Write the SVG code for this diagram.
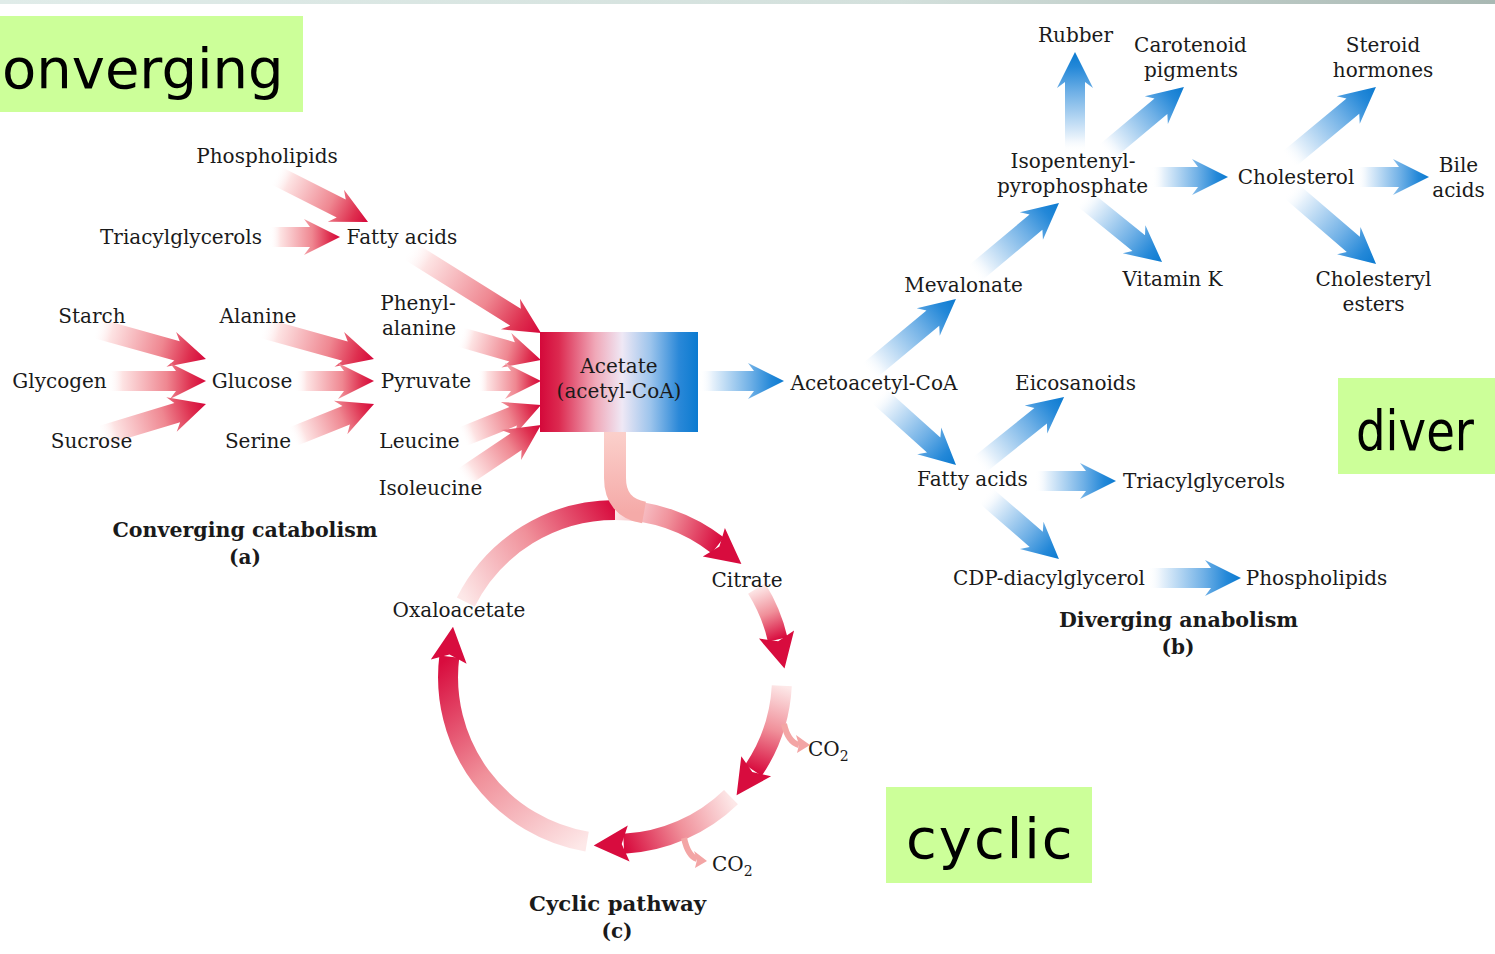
<svg xmlns="http://www.w3.org/2000/svg" width="1495" height="954" viewBox="0 0 1495 954">
<defs>
<style>
.t{font-family:"DejaVu Serif","Liberation Serif",serif;font-size:20px;fill:#1a1a1a;text-anchor:middle}
.s{text-anchor:start}
.b{font-family:"DejaVu Serif","Liberation Serif",serif;font-size:20px;font-weight:bold;fill:#1a1a1a;text-anchor:middle}
.g{font-family:"DejaVu Sans","Noto Sans",sans-serif;font-size:56px;fill:#000}
.gb{fill:#ccff99}
.ra{fill:url(#gr)}
.ba{fill:url(#gbl)}
.arc{fill:none;stroke-width:20}
.hd{fill:#d80c3e}
.co{fill:none;stroke:#f3a5a5;stroke-width:6}
.coh{fill:#f3a5a5}
</style>
<linearGradient id="top" x1="0" x2="1"><stop offset="0" stop-color="#e0ece9"/><stop offset="0.6" stop-color="#d3e0dc"/><stop offset="1" stop-color="#a9b8b3"/></linearGradient>
<linearGradient id="gr"><stop offset="0" stop-color="#fff" stop-opacity="0"/><stop offset=".15" stop-color="#fde3e3"/><stop offset=".6" stop-color="#ef8791"/><stop offset=".85" stop-color="#de2f4f"/><stop offset="1" stop-color="#d6063a"/></linearGradient>
<linearGradient id="gbl"><stop offset="0" stop-color="#fff" stop-opacity="0"/><stop offset=".15" stop-color="#e6f1fb"/><stop offset=".6" stop-color="#6fb0e6"/><stop offset=".85" stop-color="#2488d8"/><stop offset="1" stop-color="#0b7ad0"/></linearGradient>
<linearGradient id="box" x1="0" x2="1"><stop offset="0" stop-color="#d4083a"/><stop offset=".12" stop-color="#dc2a50"/><stop offset=".35" stop-color="#f0a8b8"/><stop offset=".52" stop-color="#efe8f5"/><stop offset=".7" stop-color="#9cc4ec"/><stop offset=".88" stop-color="#2a88d8"/><stop offset="1" stop-color="#0a7ad0"/></linearGradient>
<linearGradient id="ra"><stop offset="0" stop-color="#fde8e8"/><stop offset=".5" stop-color="#f0909a"/><stop offset="1" stop-color="#d80c3e"/></linearGradient>
<linearGradient id="a1a" href="#ra" gradientUnits="userSpaceOnUse" x1="465.8" y1="602" x2="615" y2="510"/>
<linearGradient id="a1b" href="#ra" gradientUnits="userSpaceOnUse" x1="615" y1="510" x2="717.8" y2="545.4"/>
<linearGradient id="a2" href="#ra" gradientUnits="userSpaceOnUse" x1="756.6" y1="588.5" x2="777.7" y2="639.4"/>
<linearGradient id="a3" href="#ra" gradientUnits="userSpaceOnUse" x1="781.8" y1="685.7" x2="753.4" y2="770.4"/>
<linearGradient id="a4" href="#ra" gradientUnits="userSpaceOnUse" x1="731" y1="797.1" x2="623.7" y2="843.8"/>
<linearGradient id="a5" href="#ra" gradientUnits="userSpaceOnUse" x1="587.1" y1="841.7" x2="449.3" y2="656.6"/>
<linearGradient id="feed" x1="0" y1="0" x2="0" y2="1"><stop offset="0" stop-color="#fbd0cb"/><stop offset="1" stop-color="#f5aaa8"/></linearGradient>
</defs>
<rect x="0" y="0" width="1495" height="954" fill="#fff"/>
<rect x="0" y="0" width="1495" height="4" fill="url(#top)"/>

<g id="connectors">
<path class="ra" transform="translate(275,175) rotate(26.8)" d="M0,-10H74.2L68.2,-18L104.2,0L68.2,18L74.2,10H0Z"/>
<path class="ra" transform="translate(270,237)" d="M0,-10H40L34,-18L70,0L34,18L40,10H0Z"/>
<path class="ra" transform="translate(408,250) rotate(32)" d="M0,-10H126.8L120.8,-18L156.8,0L120.8,18L126.8,10H0Z"/>
<path class="ra" transform="translate(95,328) rotate(15.6)" d="M0,-10H85.2L79.2,-18L115.2,0L79.2,18L85.2,10H0Z"/>
<path class="ra" transform="translate(108,381)" d="M0,-10H68L62,-18L98,0L62,18L68,10H0Z"/>
<path class="ra" transform="translate(100,436) rotate(-16.8)" d="M0,-10H80.7L74.7,-18L110.7,0L74.7,18L80.7,10H0Z"/>
<path class="ra" transform="translate(262,328) rotate(15.5)" d="M0,-10H86.2L80.2,-18L116.2,0L80.2,18L86.2,10H0Z"/>
<path class="ra" transform="translate(295,381)" d="M0,-10H49L43,-18L79,0L43,18L49,10H0Z"/>
<path class="ra" transform="translate(292,437) rotate(-21.9)" d="M0,-10H58.4L52.4,-18L88.4,0L52.4,18L58.4,10H0Z"/>
<path class="ra" transform="translate(460,337) rotate(15.9)" d="M0,-10H54.2L48.2,-18L84.2,0L48.2,18L54.2,10H0Z"/>
<path class="ra" transform="translate(478,381)" d="M0,-10H33L27,-18L63,0L27,18L33,10H0Z"/>
<path class="ra" transform="translate(462,437) rotate(-22)" d="M0,-10H55.2L49.2,-18L85.2,0L49.2,18L55.2,10H0Z"/>
<path class="ra" transform="translate(462,478) rotate(-33.9)" d="M0,-10H65.1L59.1,-18L95.1,0L59.1,18L65.1,10H0Z"/>
<path class="ba" transform="translate(700,381)" d="M0,-10H54L48,-18L84,0L48,18L54,10H0Z"/>
<path class="ba" transform="translate(868,372) rotate(-39.7)" d="M0,-10H84.3L78.3,-18L114.3,0L78.3,18L84.3,10H0Z"/>
<path class="ba" transform="translate(974,274) rotate(-39.9)" d="M0,-10H80.8L74.8,-18L110.8,0L74.8,18L80.8,10H0Z"/>
<path class="ba" transform="translate(1075,152) rotate(-90)" d="M0,-10H70L64,-18L100,0L64,18L70,10H0Z"/>
<path class="ba" transform="translate(1105,153) rotate(-39.9)" d="M0,-10H72.9L66.9,-18L102.9,0L66.9,18L72.9,10H0Z"/>
<path class="ba" transform="translate(1152,177)" d="M0,-10H46L40,-18L76,0L40,18L46,10H0Z"/>
<path class="ba" transform="translate(1083,198) rotate(39)" d="M0,-10H71.7L65.7,-18L101.7,0L65.7,18L71.7,10H0Z"/>
<path class="ba" transform="translate(1288,160) rotate(-39.7)" d="M0,-10H84.3L78.3,-18L114.3,0L78.3,18L84.3,10H0Z"/>
<path class="ba" transform="translate(1357,177)" d="M0,-10H42L36,-18L72,0L36,18L42,10H0Z"/>
<path class="ba" transform="translate(1290,190) rotate(40.7)" d="M0,-10H83.5L77.5,-18L113.5,0L77.5,18L83.5,10H0Z"/>
<path class="ba" transform="translate(878,395) rotate(41.9)" d="M0,-10H74.8L68.8,-18L104.8,0L68.8,18L74.8,10H0Z"/>
<path class="ba" transform="translate(978,466) rotate(-38.7)" d="M0,-10H80.3L74.3,-18L110.3,0L74.3,18L80.3,10H0Z"/>
<path class="ba" transform="translate(1035,481)" d="M0,-10H51L45,-18L81,0L45,18L51,10H0Z"/>
<path class="ba" transform="translate(985,495) rotate(40.9)" d="M0,-10H67.8L61.8,-18L97.8,0L61.8,18L67.8,10H0Z"/>
<path class="ba" transform="translate(1148,578)" d="M0,-10H63L57,-18L93,0L57,18L63,10H0Z"/>
<path class="arc" stroke="url(#a1a)" d="M465.8,602A167,167 0 0 1 615,510"/>
<path class="arc" stroke="url(#a1b)" d="M615,510A167,167 0 0 1 717.8,545.4"/>
<polygon class="hd" points="741.4,563.9 724.9,528.1 719.4,546.6 702.8,556.5"/>
<path fill="none" stroke="url(#feed)" stroke-width="22" d="M615,432V478Q615,507.4 644,512.5"/>
<path class="arc" stroke="url(#a2)" d="M756.6,588.5A167,167 0 0 1 777.7,639.4"/>
<polygon class="hd" points="784.5,668.6 794.1,630.5 778.2,641.3 759,638.6"/>
<path class="arc" stroke="url(#a3)" d="M781.8,685.7A167,167 0 0 1 753.4,770.4"/>
<polygon class="hd" points="736.6,795.3 771.1,776.3 752.3,772.1 741.3,756.2"/>
<path class="co" d="M784,724Q788,742 799,745"/>
<polygon class="coh" points="810,745 796,735 799,745 797,753"/>
<path class="arc" stroke="url(#a4)" d="M731,797.1A167,167 0 0 1 623.7,843.8"/>
<polygon class="hd" points="593.7,845.4 629.6,861.5 621.7,843.9 627.8,825.6"/>
<path class="co" d="M684,838Q688,856 697,859"/>
<polygon class="coh" points="707,861 694,851 697,860 695,868"/>
<path class="arc" stroke="url(#a5)" d="M587.1,841.7A167,167 0 0 1 449.3,656.6"/>
<polygon class="hd" points="453,626.8 430.8,659.4 449.5,654.6 466.6,663.8"/>
</g>

<g id="acetate"><rect x="540" y="332" width="158" height="100" fill="url(#box)"/><text class="t" x="619" y="373">Acetate</text><text class="t" x="619" y="398">(acetyl-CoA)</text></g>

<g id="phospholipids-a"><text class="t" x="267" y="163">Phospholipids</text></g>
<g id="triacylglycerols-a"><text class="t" x="181" y="244">Triacylglycerols</text></g>
<g id="fattyacids-a"><text class="t" x="402" y="244">Fatty acids</text></g>
<g id="starch"><text class="t" x="92" y="323">Starch</text></g>
<g id="alanine"><text class="t" x="258" y="323">Alanine</text></g>
<g id="phenylalanine"><text class="t" x="418" y="310">Phenyl-</text><text class="t" x="419" y="335">alanine</text></g>
<g id="glycogen"><text class="t" x="59.5" y="388">Glycogen</text></g>
<g id="glucose"><text class="t" x="252" y="388">Glucose</text></g>
<g id="pyruvate"><text class="t" x="426" y="388">Pyruvate</text></g>
<g id="sucrose"><text class="t" x="91.5" y="448">Sucrose</text></g>
<g id="serine"><text class="t" x="258" y="448">Serine</text></g>
<g id="leucine"><text class="t" x="419.5" y="448">Leucine</text></g>
<g id="isoleucine"><text class="t" x="430.5" y="495">Isoleucine</text></g>
<g id="caption-a"><text class="b" x="245" y="537" textLength="265" lengthAdjust="spacingAndGlyphs">Converging catabolism</text><text class="b" x="245" y="564">(a)</text></g>

<g id="acetoacetyl"><text class="t" x="874" y="390">Acetoacetyl-CoA</text></g>
<g id="mevalonate"><text class="t" x="963.5" y="292">Mevalonate</text></g>
<g id="rubber"><text class="t" x="1075.5" y="42">Rubber</text></g>
<g id="carotenoid"><text class="t" x="1190.5" y="52">Carotenoid</text><text class="t" x="1191" y="77">pigments</text></g>
<g id="steroid"><text class="t" x="1383" y="52">Steroid</text><text class="t" x="1383" y="77">hormones</text></g>
<g id="isopentenyl"><text class="t" x="1073" y="168">Isopentenyl-</text><text class="t" x="1072.5" y="193">pyrophosphate</text></g>
<g id="cholesterol"><text class="t" x="1296" y="184">Cholesterol</text></g>
<g id="bile"><text class="t" x="1458.5" y="172">Bile</text><text class="t" x="1458.5" y="197">acids</text></g>
<g id="vitamink"><text class="t" x="1172.5" y="286">Vitamin K</text></g>
<g id="cholesteryl"><text class="t" x="1373.5" y="286">Cholesteryl</text><text class="t" x="1373.5" y="311">esters</text></g>
<g id="eicosanoids"><text class="t" x="1075.5" y="390">Eicosanoids</text></g>
<g id="fattyacids-b"><text class="t" x="972.5" y="486">Fatty acids</text></g>
<g id="triacylglycerols-b"><text class="t" x="1204" y="488">Triacylglycerols</text></g>
<g id="cdp"><text class="t" x="1049" y="585">CDP-diacylglycerol</text></g>
<g id="phospholipids-b"><text class="t" x="1316.5" y="585">Phospholipids</text></g>
<g id="caption-b"><text class="b" x="1178.5" y="627" textLength="239" lengthAdjust="spacingAndGlyphs">Diverging anabolism</text><text class="b" x="1178" y="654">(b)</text></g>

<g id="citrate"><text class="t" x="747" y="587">Citrate</text></g>
<g id="oxaloacetate"><text class="t" x="459" y="617">Oxaloacetate</text></g>
<g id="co2-1"><text class="t s" x="808" y="756">CO<tspan font-size="14" dy="5">2</tspan></text></g>
<g id="co2-2"><text class="t s" x="712" y="871">CO<tspan font-size="14" dy="5">2</tspan></text></g>
<g id="caption-c"><text class="b" x="617.5" y="911" textLength="177" lengthAdjust="spacingAndGlyphs">Cyclic pathway</text><text class="b" x="617" y="938">(c)</text></g>

<g id="label-converging"><rect class="gb" x="0" y="16" width="303" height="96"/><text class="g" x="2" y="88">onverging</text></g>
<g id="label-diverging"><rect class="gb" x="1338" y="378" width="157" height="96"/><text class="g" x="1356" y="450" font-size="52" textLength="118" lengthAdjust="spacingAndGlyphs">diver</text></g>
<g id="label-cyclic"><rect class="gb" x="886" y="787" width="206" height="96"/><text class="g" x="906" y="858" letter-spacing="2">cyclic</text></g>
</svg>
